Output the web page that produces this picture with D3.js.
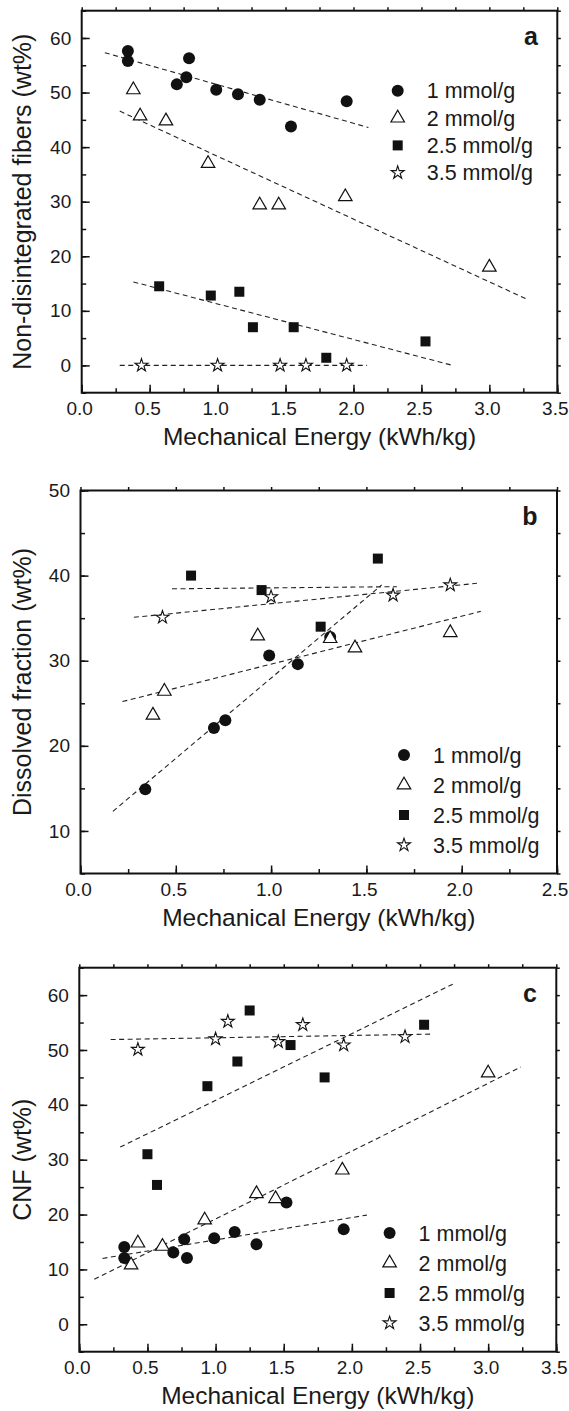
<!DOCTYPE html>
<html>
<head>
<meta charset="utf-8">
<script src="https://cdn.jsdelivr.net/npm/d3@7"></script>
<style>
  body { margin: 0; background: #fff; }
  text { font-family: "Liberation Sans", Arial, sans-serif; fill: #1a1a1a; }
</style>
</head>
<body>
<script>
// ---- data ----
const seriesNames = ["1 mmol/g", "2 mmol/g", "2.5 mmol/g", "3.5 mmol/g"];

// panel a: non-disintegrated fibers
const aCircles = [[0.34,57.6],[0.34,55.8],[0.79,56.3],[0.70,51.5],[0.77,52.8],[0.99,50.5],[1.15,49.7],[1.31,48.7],[1.54,43.8],[1.95,48.4]];
const aTriangles = [[0.38,50.5],[0.43,45.7],[0.62,44.8],[0.93,37.0],[1.31,29.4],[1.45,29.4],[1.94,30.9],[3.00,18.0]];
const aSquares = [[0.57,14.5],[0.95,12.8],[1.16,13.5],[1.26,7.0],[1.56,7.0],[1.80,1.4],[2.53,4.4]];
const aStars = [[0.44,0],[1.00,0],[1.46,0],[1.65,0],[1.95,0]];
const aFits = [[[0.17,57.3],[2.11,43.6]], [[0.28,46.6],[3.27,12.2]], [[0.38,15.3],[2.73,0]], [[0.28,0],[2.10,0]]];

// panel b: dissolved fraction
const bCircles = [[0.34,14.9],[0.70,22.1],[0.76,23.0],[0.99,30.6],[1.14,29.6],[1.31,32.8]];
const bTriangles = [[0.38,23.6],[0.44,26.4],[0.93,32.9],[1.31,32.6],[1.44,31.5],[1.94,33.3]];
const bSquares = [[0.58,40.0],[0.95,38.3],[1.26,34.0],[1.56,42.0]];
const bStars = [[0.43,35.1],[1.00,37.5],[1.64,37.7],[1.94,38.9]];
const bFits = [[[0.17,12.3],[1.58,38.9]], [[0.22,25.2],[2.10,35.8]], [[0.48,38.45],[1.66,38.7]], [[0.28,35.1],[2.08,39.1]]];

// panel c: CNF
const cCircles = [[0.33,14.1],[0.33,12.1],[0.69,13.1],[0.77,15.5],[0.79,12.1],[0.99,15.7],[1.14,16.8],[1.30,14.6],[1.52,22.2],[1.94,17.3]];
const cTriangles = [[0.38,10.8],[0.43,14.8],[0.61,14.2],[0.92,19.0],[1.30,23.8],[1.44,22.9],[1.93,28.1],[3.00,45.8]];
const cSquares = [[0.50,31.0],[0.57,25.4],[0.94,43.4],[1.16,47.9],[1.25,57.2],[1.55,50.9],[1.80,45.0],[2.53,54.6]];
const cStars = [[0.43,50.1],[1.00,52.0],[1.09,55.2],[1.46,51.5],[1.64,54.6],[1.94,50.9],[2.39,52.4]];
const cFits = [[[0.17,12.0],[2.11,19.9]], [[0.11,8.2],[3.24,46.9]], [[0.30,32.3],[2.74,62.0]], [[0.23,51.9],[2.60,52.9]]];

const xTicksWide = [0, 0.5, 1, 1.5, 2, 2.5, 3, 3.5];
const xTicksNarrow = [0, 0.5, 1, 1.5, 2, 2.5];
const yTicksA = [0, 10, 20, 30, 40, 50, 60];
const yTicksB = [10, 20, 30, 40, 50];

const xTitle = "Mechanical Energy (kWh/kg)";

const svg = d3.select("body").append("svg")
  .attr("width", 569).attr("height", 1411);

// marker shapes
function triPath(s) {
  const h = s * Math.sqrt(3) / 2;
  return `M0,${-h * 2 / 3}L${s / 2},${h / 3}L${-s / 2},${h / 3}Z`;
}
const starPath = d3.symbol(d3.symbolStar).size(52)();

function drawMarker(sel, type) {
  if (type === 0) {
    sel.append("circle").attr("r", 6).attr("fill", "#111");
  } else if (type === 1) {
    sel.append("path").attr("d", triPath(13.5)).attr("fill", "#fff")
      .attr("stroke", "#111").attr("stroke-width", 1.2);
  } else if (type === 2) {
    sel.append("rect").attr("x", -5).attr("y", -5).attr("width", 10).attr("height", 10)
      .attr("fill", "#111");
  } else {
    sel.append("path").attr("d", starPath).attr("fill", "#fff")
      .attr("stroke", "#111").attr("stroke-width", 1.1);
  }
}

function minorOf(domain, step) {
  return d3.range(domain[0], domain[1] + step / 2, step);
}

function drawPanel(p) {
  const g = svg.append("g");
  const left = p.left, right = p.right;
  const x = d3.scaleLinear().domain(p.xDomain).range([left, right]);
  const y = d3.scaleLinear().domain(p.yDomain).range([p.bottom, p.top]);
  const bottomY = p.bottom;

  // bottom ticks (inward)
  g.append("g").attr("transform", `translate(0,${bottomY})`)
    .call(d3.axisBottom(x).tickValues(minorOf(p.xDomain, 0.25)).tickSize(-4.5).tickFormat(""))
    .call(a => a.select(".domain").remove());
  g.append("g").attr("transform", `translate(0,${bottomY})`)
    .call(d3.axisBottom(x).tickValues(p.xTicks).tickSize(-8).tickPadding(9).tickFormat(d3.format(".1f")))
    .call(a => a.select(".domain").remove())
    .call(a => a.selectAll("text").attr("dx", -2.5).style("font-size", "19px"));

  // left ticks (inward)
  g.append("g").attr("transform", `translate(${left},0)`)
    .call(d3.axisLeft(y).tickValues(minorOf(p.yDomain, 5)).tickSize(-4.5).tickFormat(""))
    .call(a => a.select(".domain").remove());
  g.append("g").attr("transform", `translate(${left},0)`)
    .call(d3.axisLeft(y).tickValues(p.yTicks).tickSize(-8).tickPadding(10.5))
    .call(a => a.select(".domain").remove())
    .call(a => a.selectAll("text").style("font-size", "19px"));

  // top and right (small outward ticks)
  g.append("g").attr("transform", `translate(0,${p.top})`)
    .call(d3.axisTop(x).tickValues(minorOf(p.xDomain, 0.25)).tickSize(3.5).tickFormat(""))
    .call(a => a.select(".domain").remove());
  g.append("g").attr("transform", `translate(${right},0)`)
    .call(d3.axisRight(y).tickValues(minorOf(p.yDomain, 5)).tickSize(3.5).tickFormat(""))
    .call(a => a.select(".domain").remove());

  g.selectAll(".tick line").attr("stroke", "#111").attr("stroke-width", 1.5);

  // frame
  g.append("rect").attr("x", left).attr("y", p.top)
    .attr("width", right - left).attr("height", p.bottom - p.top)
    .attr("fill", "none").attr("stroke", "#111").attr("stroke-width", 2);

  // fit lines
  const line = d3.line().x(d => x(d[0])).y(d => y(d[1]));
  g.selectAll(".fit").data(p.fits).join("path")
    .attr("class", "fit")
    .attr("d", line)
    .attr("fill", "none").attr("stroke", "#222")
    .attr("stroke-width", 1.1).attr("stroke-dasharray", "5,3.5");

  // points (squares, circles, triangles, stars)
  [2, 0, 1, 3].forEach(k => {
    g.append("g").selectAll("g").data(p.series[k]).join("g")
      .attr("transform", d => `translate(${x(d[0])},${y(d[1])})`)
      .each(function () { drawMarker(d3.select(this), k); });
  });

  // legend
  const lg = g.append("g");
  seriesNames.forEach((name, i) => {
    const row = lg.append("g")
      .attr("transform", `translate(${p.legendX},${p.legendY + i * p.legendDy})`);
    drawMarker(row, i);
    row.append("text").attr("x", 29).attr("dy", "0.35em")
      .style("font-size", "21.5px").text(name);
  });

  // panel letter
  g.append("text").attr("x", right - 19.5).attr("y", p.top + 34)
    .attr("text-anchor", "end").style("font-size", "25px").style("font-weight", "bold")
    .text(p.letter);

  // axis titles
  g.append("text").attr("x", (left + right) / 2).attr("y", bottomY + 52)
    .attr("text-anchor", "middle").style("font-size", "24.5px").text(xTitle);
  g.append("text")
    .attr("transform", `translate(22,${(p.top + p.bottom) / 2}) rotate(-90)`)
    .attr("text-anchor", "middle").attr("dy", "0.35em")
    .style("font-size", "25px").text(p.yTitle);
}

drawPanel({
  top: 10.7, bottom: 392.7, left: 81.7, right: 557.3, letter: "a",
  xDomain: [0, 3.5], yDomain: [-5, 65],
  xTicks: xTicksWide, yTicks: yTicksA,
  yTitle: "Non-disintegrated fibers (wt%)",
  series: [aCircles, aTriangles, aSquares, aStars], fits: aFits,
  legendX: 397.7, legendY: 90.8, legendDy: 27.3
});

drawPanel({
  top: 490.5, bottom: 873.5, left: 80.5, right: 557, letter: "b",
  xDomain: [0, 2.5], yDomain: [5, 50],
  xTicks: xTicksNarrow, yTicks: yTicksB,
  yTitle: "Dissolved fraction (wt%)",
  series: [bCircles, bTriangles, bSquares, bStars], fits: bFits,
  legendX: 404, legendY: 755, legendDy: 30
});

drawPanel({
  top: 967.7, bottom: 1351.7, left: 79.3, right: 556.3, letter: "c",
  xDomain: [0, 3.5], yDomain: [-5, 65],
  xTicks: xTicksWide, yTicks: yTicksA,
  yTitle: "CNF (wt%)",
  series: [cCircles, cTriangles, cSquares, cStars], fits: cFits,
  legendX: 389.6, legendY: 1233, legendDy: 30
});
</script>
</body>
</html>
